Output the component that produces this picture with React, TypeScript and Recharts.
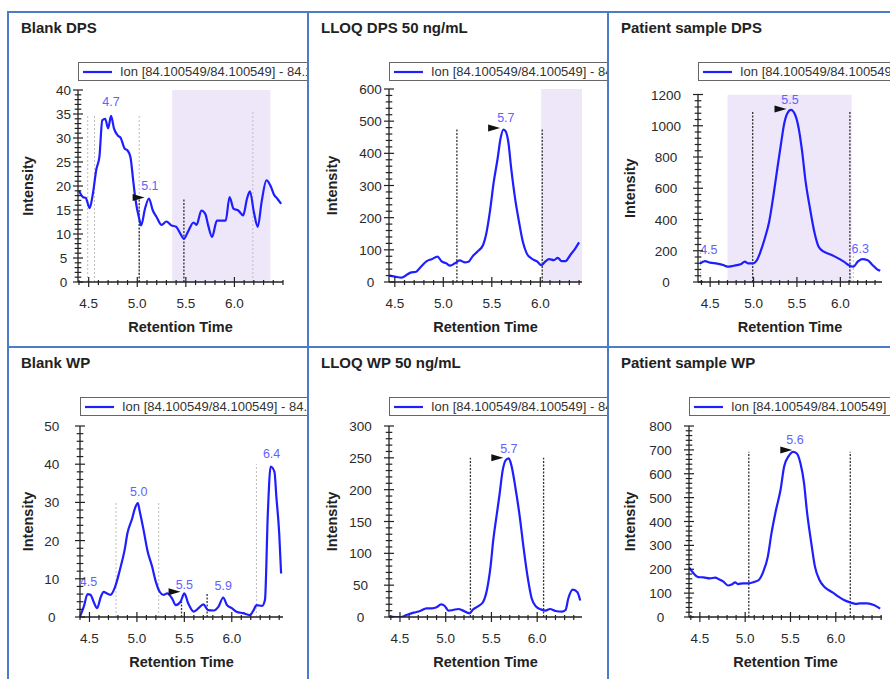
import React from "react";
import {
  Legend,
  Line,
  LineChart,
  ReferenceArea,
  ReferenceDot,
  ReferenceLine,
  XAxis,
  YAxis,
} from "recharts";

type Pt = [number, number];
type Guide = { t: number; top: number; dark: boolean };
type Note = { t: number; v: number; text: string };
type Mark = { t: number; v: number };

// retention time ticks with labels (minor ticks every 0.1)
const xMajorTicks = [4.5, 5.0, 5.5, 6.0];
const legendText = "Ion [84.100549/84.100549] - 84.100549";

// ---- Blank DPS
const blankDps: Pt[] = [
  [4.4, 19.0], [4.44, 17.7], [4.47, 17.5], [4.51, 15.4], [4.54, 18.0], [4.58, 23.6],
  [4.61, 26.0], [4.64, 33.7], [4.67, 34.0], [4.7, 32.0], [4.73, 34.6], [4.76, 32.0],
  [4.8, 30.5], [4.83, 30.0], [4.87, 27.8], [4.9, 27.4], [4.93, 26.0], [4.96, 20.8],
  [4.98, 17.4], [5.02, 13.2], [5.04, 11.8], [5.08, 15.3], [5.12, 17.4], [5.16, 14.9],
  [5.2, 13.5], [5.25, 11.9], [5.3, 12.6], [5.35, 11.8], [5.4, 11.5], [5.44, 10.2],
  [5.48, 9.0], [5.52, 10.4], [5.58, 12.4], [5.61, 11.9], [5.66, 14.9], [5.7, 14.2],
  [5.73, 11.8], [5.77, 9.4], [5.82, 12.8], [5.87, 12.8], [5.91, 12.8], [5.95, 17.7],
  [5.99, 15.3], [6.04, 14.9], [6.09, 13.9], [6.13, 17.4], [6.16, 18.9], [6.2, 14.6],
  [6.24, 11.5], [6.28, 16.7], [6.33, 21.2], [6.37, 20.1], [6.41, 18.1], [6.44, 17.4],
  [6.48, 16.3],
];
const blankDpsGuides: Guide[] = [
  { t: 4.49, top: 35, dark: false }, { t: 4.56, top: 35, dark: false },
  { t: 5.02, top: 35, dark: false }, { t: 6.19, top: 35.4, dark: false },
  { t: 5.02, top: 18.1, dark: true }, { t: 5.48, top: 17.4, dark: true },
];
const blankDpsNotes: Note[] = [{ t: 4.73, v: 37.6, text: "4.7" }, { t: 5.13, v: 20.2, text: "5.1" }];
const blankDpsMarks: Mark[] = [{ t: 5.076, v: 17.6 }];

// ---- LLOQ DPS 50 ng/mL
const lloqDps: Pt[] = [
  [4.44, 19.7], [4.5, 16.6], [4.57, 13.5], [4.62, 21.8], [4.67, 30], [4.72, 32],
  [4.77, 47.7], [4.83, 65], [4.88, 71], [4.94, 79], [4.98, 65], [5.03, 58], [5.07, 51],
  [5.12, 58], [5.17, 67], [5.22, 61], [5.26, 63], [5.3, 79], [5.35, 94], [5.41, 115],
  [5.44, 146], [5.48, 218], [5.52, 311], [5.56, 384], [5.59, 446], [5.62, 474],
  [5.64, 470], [5.67, 436], [5.7, 353], [5.74, 260], [5.78, 188], [5.82, 125], [5.86, 89],
  [5.91, 73], [5.97, 63], [6.01, 52], [6.05, 63], [6.09, 71], [6.14, 68], [6.18, 75],
  [6.22, 65], [6.26, 65], [6.31, 84], [6.36, 104], [6.4, 123],
];
const lloqDpsGuides: Guide[] = [
  { t: 5.14, top: 475, dark: true }, { t: 6.02, top: 475, dark: true },
];
const lloqDpsNotes: Note[] = [{ t: 5.645, v: 512, text: "5.7" }];
const lloqDpsMarks: Mark[] = [{ t: 5.586, v: 479 }];

// ---- Patient sample DPS
const patientDps: Pt[] = [
  [4.385, 119], [4.44, 134], [4.5, 124], [4.58, 118], [4.65, 109], [4.7, 98], [4.77, 104],
  [4.85, 113], [4.9, 130], [4.94, 119], [4.99, 119], [5.04, 141], [5.08, 194], [5.13, 280],
  [5.18, 386], [5.23, 557], [5.28, 749], [5.32, 898], [5.35, 1005], [5.39, 1080],
  [5.43, 1101], [5.48, 1069], [5.52, 984], [5.56, 834], [5.6, 642], [5.65, 472], [5.7, 322],
  [5.75, 226], [5.81, 194], [5.88, 177], [5.96, 156], [6.04, 130], [6.11, 104], [6.15, 98],
  [6.2, 130], [6.25, 147], [6.31, 141], [6.37, 109], [6.42, 83], [6.46, 72],
];
const patientDpsGuides: Guide[] = [
  { t: 4.39, top: 190, dark: false }, { t: 6.15, top: 190, dark: false },
  { t: 4.99, top: 1094, dark: true }, { t: 6.11, top: 1094, dark: true },
];
const patientDpsNotes: Note[] = [
  { t: 5.42, v: 1169, text: "5.5" }, { t: 4.485, v: 205, text: "4.5" }, { t: 6.23, v: 216, text: "6.3" },
];
const patientDpsMarks: Mark[] = [{ t: 5.38, v: 1108 }];

// ---- Blank WP
const blankWp: Pt[] = [
  [4.4, 0.1], [4.44, 2.7], [4.48, 6.0], [4.51, 5.8], [4.55, 3.6], [4.58, 2.3], [4.62, 5.3],
  [4.65, 6.6], [4.68, 6.2], [4.72, 5.8], [4.77, 7.9], [4.82, 12.3], [4.87, 17.5],
  [4.9, 21.9], [4.95, 25.8], [4.98, 28.5], [5.01, 29.8], [5.03, 27.6], [5.07, 22.8],
  [5.11, 17.5], [5.16, 13.2], [5.2, 9.2], [5.24, 6.6], [5.28, 5.8], [5.32, 6.2], [5.37, 4.9],
  [5.41, 3.1], [5.46, 4.0], [5.5, 6.2], [5.54, 3.6], [5.6, 1.4], [5.65, 2.3], [5.7, 3.3],
  [5.75, 1.8], [5.81, 1.7], [5.86, 2.7], [5.91, 5.1], [5.95, 3.1], [6.0, 2.3], [6.05, 1.4],
  [6.12, 1.0], [6.19, 0.5], [6.23, 1.8], [6.26, 3.1], [6.32, 2.9], [6.35, 4.5], [6.38, 27.1],
  [6.41, 39.4], [6.45, 38.0], [6.47, 31.5], [6.5, 21.9], [6.52, 11.4],
];
const blankWpGuides: Guide[] = [
  { t: 4.78, top: 30, dark: false }, { t: 5.23, top: 30, dark: false },
  { t: 6.26, top: 40, dark: false },
  { t: 5.47, top: 4, dark: true }, { t: 5.74, top: 6, dark: true },
];
const blankWpNotes: Note[] = [
  { t: 4.49, v: 9.2, text: "4.5" }, { t: 5.02, v: 32.8, text: "5.0" }, { t: 5.5, v: 8.4, text: "5.5" },
  { t: 5.91, v: 8.2, text: "5.9" }, { t: 6.42, v: 42.7, text: "6.4" },
];
const blankWpMarks: Mark[] = [{ t: 5.46, v: 6.6 }];

// ---- LLOQ WP 50 ng/mL
const lloqWp: Pt[] = [
  [4.38, 0.5], [4.45, 0], [4.51, 0], [4.57, 3], [4.65, 6.8], [4.72, 9.4], [4.79, 13.6],
  [4.85, 13.6], [4.9, 15.2], [4.95, 19.9], [4.99, 17.3], [5.03, 10], [5.08, 11], [5.14, 12.6],
  [5.19, 10], [5.26, 5.8], [5.3, 12], [5.36, 17.3], [5.41, 24], [5.45, 42], [5.49, 79],
  [5.52, 121], [5.56, 163], [5.59, 194], [5.62, 228], [5.66, 247], [5.69, 249], [5.72, 237],
  [5.76, 205], [5.81, 157], [5.85, 110], [5.89, 68], [5.94, 29], [5.99, 16], [6.04, 12],
  [6.09, 10], [6.14, 12.6], [6.2, 9.4], [6.27, 8.4], [6.31, 11], [6.34, 29], [6.39, 43],
  [6.44, 39], [6.47, 26],
];
const lloqWpGuides: Guide[] = [
  { t: 5.27, top: 250, dark: true }, { t: 6.07, top: 250, dark: true },
];
const lloqWpNotes: Note[] = [{ t: 5.69, v: 265, text: "5.7" }];
const lloqWpMarks: Mark[] = [{ t: 5.63, v: 250 }];

// ---- Patient sample WP
const patientWp: Pt[] = [
  [4.38, 208], [4.43, 183], [4.48, 167], [4.54, 166], [4.61, 162], [4.67, 165], [4.71, 158],
  [4.76, 148], [4.81, 132], [4.85, 136], [4.89, 145], [4.92, 138], [4.98, 141], [5.04, 141],
  [5.1, 147], [5.15, 155], [5.2, 190], [5.25, 253], [5.29, 350], [5.34, 448], [5.39, 532],
  [5.43, 630], [5.48, 674], [5.53, 692], [5.57, 685], [5.61, 644], [5.65, 560], [5.68, 448],
  [5.73, 309], [5.77, 211], [5.82, 155], [5.87, 128], [5.92, 113], [5.98, 99], [6.03, 85],
  [6.09, 71], [6.16, 61], [6.22, 55], [6.27, 57], [6.35, 57], [6.42, 50], [6.49, 35],
];
const patientWpGuides: Guide[] = [
  { t: 5.04, top: 692, dark: true }, { t: 6.16, top: 692, dark: true },
];
const patientWpNotes: Note[] = [{ t: 5.55, v: 744, text: "5.6" }];
const patientWpMarks: Mark[] = [{ t: 5.52, v: 699 }];

type PanelCfg = {
  title: string;
  col: number;
  row: number;
  data: Pt[];
  xDomain: [number, number];
  yMax: number;
  yStep: number;
  yMinor: number;
  shade?: [number, number];
  guides: Guide[];
  notes: Note[];
  marks: Mark[];
  left: number;
  right: number;
  top: number;
  bottom: number;
  yLabelGap: number;
  yTitleX: number;
};

const panels: PanelCfg[] = [
  {
    title: "Blank DPS", col: 0, row: 0, data: blankDps, xDomain: [4.39, 6.5],
    yMax: 40, yStep: 5, yMinor: 1, shade: [5.36, 6.37],
    guides: blankDpsGuides, notes: blankDpsNotes, marks: blankDpsMarks,
    left: 70, right: 275, top: 78, bottom: 270, yLabelGap: 14.5, yTitleX: 20.3,
  },
  {
    title: "LLOQ DPS 50 ng/mL", col: 1, row: 0, data: lloqDps, xDomain: [4.44, 6.43],
    yMax: 600, yStep: 100, yMinor: 20, shade: [6.01, 6.43],
    guides: lloqDpsGuides, notes: lloqDpsNotes, marks: lloqDpsMarks,
    left: 81, right: 274, top: 77, bottom: 270, yLabelGap: 18.5, yTitleX: 23.7,
  },
  {
    title: "Patient sample DPS", col: 2, row: 0, data: patientDps, xDomain: [4.36, 6.48],
    yMax: 1200, yStep: 200, yMinor: 40, shade: [4.7, 6.13],
    guides: patientDpsGuides, notes: patientDpsNotes, marks: patientDpsMarks,
    left: 90, right: 274, top: 82.5, bottom: 270, yLabelGap: 32, yTitleX: 22,
  },
  {
    title: "Blank WP", col: 0, row: 1, data: blankWp, xDomain: [4.4, 6.54],
    yMax: 50, yStep: 10, yMinor: 2,
    guides: blankWpGuides, notes: blankWpNotes, marks: blankWpMarks,
    left: 72, right: 275, top: 79, bottom: 270, yLabelGap: 28.3, yTitleX: 20,
  },
  {
    title: "LLOQ WP 50 ng/mL", col: 1, row: 1, data: lloqWp, xDomain: [4.38, 6.49],
    yMax: 300, yStep: 50, yMinor: 10,
    guides: lloqWpGuides, notes: lloqWpNotes, marks: lloqWpMarks,
    left: 81, right: 274, top: 79, bottom: 270, yLabelGap: 28.5, yTitleX: 23.7,
  },
  {
    title: "Patient sample WP", col: 2, row: 1, data: patientWp, xDomain: [4.38, 6.51],
    yMax: 800, yStep: 100, yMinor: 20,
    guides: patientWpGuides, notes: patientWpNotes, marks: patientWpMarks,
    left: 81, right: 274, top: 79, bottom: 270, yLabelGap: 28.5, yTitleX: 22,
  },
];

const colX = [8, 308, 608];
const rowY = [12, 347];
const CELL_W = 300;
const CELL_H = 335;
const TRACE = "#1e1eff";
const NOTE = "#6262ff";
const BORDER = "#4a7cc7";

function XTick(props: any) {
  const { x, y, payload } = props;
  const v: number = payload.value;
  const major = xMajorTicks.some((m) => Math.abs(m - v) < 1e-6);
  return (
    <g>
      <line x1={x} x2={x} y1={y - (major ? 5 : 2)} y2={y + (major ? 5 : 3)} stroke="#222" strokeWidth={1.2} />
      {major && (
        <text x={x} y={y + 26} textAnchor="middle" fontSize={13.5} fill="#2a2a2a">
          {v.toFixed(1)}
        </text>
      )}
    </g>
  );
}

function YTick(props: any) {
  const { x, y, payload, majorStep, labelGap } = props;
  const v: number = payload.value;
  const major = Math.abs(v / majorStep - Math.round(v / majorStep)) < 1e-6;
  const len = major ? 5 : 3.3;
  return (
    <g>
      <line x1={x - len} x2={x + len} y1={y} y2={y} stroke="#222" strokeWidth={1.2} />
      {major && (
        <text x={x - labelGap} y={y + 5} textAnchor="middle" fontSize={13.5} fill="#2a2a2a">
          {v}
        </text>
      )}
    </g>
  );
}

function YTitle(props: any) {
  const { viewBox, titleX } = props;
  const cy = viewBox.y + viewBox.height / 2;
  return (
    <text
      x={titleX}
      y={cy}
      transform={`rotate(-90 ${titleX} ${cy})`}
      textAnchor="middle"
      dominantBaseline="central"
      fontSize={14.5}
      fontWeight="bold"
      fill="#222"
    >
      Intensity
    </text>
  );
}

function XTitle(props: any) {
  const { viewBox } = props;
  return (
    <text
      x={viewBox.x + viewBox.width / 2}
      y={viewBox.y + 50}
      textAnchor="middle"
      fontSize={14.5}
      fontWeight="bold"
      fill="#222"
    >
      Retention Time
    </text>
  );
}

function IonLegend() {
  return (
    <div
      style={{
        height: 19,
        boxSizing: "border-box",
        border: "1.5px solid #666",
        background: "#fff",
        display: "flex",
        alignItems: "center",
        whiteSpace: "nowrap",
        fontSize: 13,
        color: "#333",
      }}
    >
      <svg width={34} height={6} style={{ flex: "none" }}>
        <line x1={4} x2={33} y1={3} y2={3} stroke={TRACE} strokeWidth={2.2} />
      </svg>
      <span style={{ marginLeft: 7 }}>{legendText}</span>
    </div>
  );
}

function span(a: number, b: number, step: number) {
  const out: number[] = [];
  const k0 = Math.ceil(a / step - 1e-6);
  const k1 = Math.floor(b / step + 1e-6);
  for (let k = k0; k <= k1; k++) out.push(Math.round(k * step * 1000) / 1000);
  return out;
}

function ChromPanel({ p }: { p: PanelCfg }) {
  const rows = p.data.map(([t, v]) => ({ t, v }));
  const xTicks = span(p.xDomain[0], p.xDomain[1], 0.1);
  const yTicks = span(0, p.yMax, p.yMinor);
  return (
    <div
      style={{
        position: "absolute",
        left: colX[p.col],
        top: rowY[p.row],
        width: CELL_W,
        height: CELL_H,
        overflow: "hidden",
      }}
    >
      <div
        style={{
          position: "absolute",
          left: 13,
          top: 6.5,
          lineHeight: "18px",
          fontSize: 15,
          fontWeight: "bold",
          color: "#222",
          zIndex: 2,
          whiteSpace: "nowrap",
        }}
      >
        {p.title}
      </div>
      <LineChart
        width={CELL_W}
        height={CELL_H}
        data={rows}
        margin={{ top: p.top, right: CELL_W - p.right, bottom: 0, left: 0 }}
      >
        {p.shade && (
          <ReferenceArea
            x1={p.shade[0]}
            x2={p.shade[1]}
            y1={0}
            y2={p.yMax}
            fill="#eee6f9"
            fillOpacity={1}
            stroke="none"
            ifOverflow="hidden"
          />
        )}
        <XAxis
          dataKey="t"
          type="number"
          domain={p.xDomain}
          allowDataOverflow
          ticks={xTicks}
          interval={0}
          tickSize={0}
          tickMargin={0}
          tickLine={false}
          tick={<XTick />}
          axisLine={{ stroke: "#222", strokeWidth: 1.3 }}
          height={CELL_H - p.bottom}
          label={<XTitle />}
        />
        <YAxis
          type="number"
          domain={[0, p.yMax]}
          allowDataOverflow
          ticks={yTicks}
          interval={0}
          tickSize={0}
          tickMargin={0}
          tickLine={false}
          tick={<YTick majorStep={p.yStep} labelGap={p.yLabelGap} />}
          axisLine={{ stroke: "#222", strokeWidth: 1.3 }}
          width={p.left}
          label={<YTitle titleX={p.yTitleX} />}
        />
        {p.guides.map((g, i) => (
          <ReferenceLine
            key={"g" + i}
            segment={[
              { x: g.t, y: 0 },
              { x: g.t, y: g.top },
            ]}
            stroke={g.dark ? "#333" : "#bdbdbd"}
            strokeWidth={g.dark ? 1.3 : 1}
            strokeDasharray={g.dark ? "2 1.5" : "2 2"}
          />
        ))}
        <Line
          type="monotone"
          dataKey="v"
          stroke={TRACE}
          strokeWidth={2.2}
          dot={false}
          isAnimationActive={false}
        />
        {p.marks.map((m, i) => (
          <ReferenceDot
            key={"m" + i}
            x={m.t}
            y={m.v}
            r={1}
            shape={(s: any) => (
              <polygon
                points={`${s.cx},${s.cy} ${s.cx - 12},${s.cy - 3.5} ${s.cx - 12},${s.cy + 3.5}`}
                fill="#111"
              />
            )}
          />
        ))}
        {p.notes.map((n, i) => (
          <ReferenceDot
            key={"n" + i}
            x={n.t}
            y={n.v}
            r={1}
            shape={(s: any) => (
              <text x={s.cx} y={s.cy + 4.5} textAnchor="middle" fontSize={12.5} fill={NOTE}>
                {n.text}
              </text>
            )}
          />
        ))}
        <Legend
          layout="horizontal"
          verticalAlign="middle"
          align="center"
          wrapperStyle={{ left: p.left, top: 50, width: 330, height: 19 }}
          content={() => <IonLegend />}
        />
      </LineChart>
    </div>
  );
}

export default function App() {
  const vLines = colX.map((x) => (
    <div
      key={"v" + x}
      style={{ position: "absolute", left: x - 1, top: rowY[0] - 1, width: 2, height: 700, background: BORDER, zIndex: 5 }}
    />
  ));
  const hLines = rowY.map((y) => (
    <div
      key={"h" + y}
      style={{ position: "absolute", left: colX[0] - 1, top: y - 1, width: 900, height: 2, background: BORDER, zIndex: 5 }}
    />
  ));
  return (
    <div
      style={{
        position: "fixed",
        left: 0,
        top: 0,
        width: 890,
        height: 679,
        overflow: "hidden",
        background: "#fff",
        fontFamily: '"Liberation Sans", Arial, sans-serif',
      }}
    >
      {panels.map((p) => (
        <ChromPanel key={p.title} p={p} />
      ))}
      {vLines}
      {hLines}
    </div>
  );
}
